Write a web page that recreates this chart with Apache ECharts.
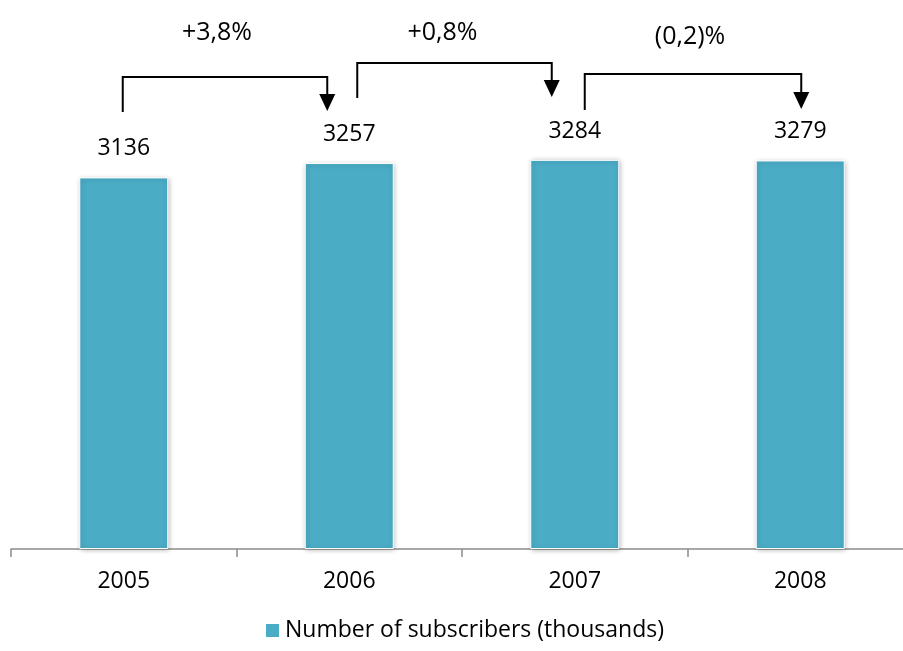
<!DOCTYPE html>
<html>
<head>
<meta charset="utf-8">
<script src="https://cdn.jsdelivr.net/npm/echarts@6/dist/echarts.min.js"></script>
<style>
  html, body { margin: 0; padding: 0; background: #fff; overflow: hidden; }
  #chart { width: 913px; height: 651px; }
</style>
</head>
<body>
<div id="chart"></div>
<script>
// Subscribers per year, in thousands
const years = ['2005', '2006', '2007', '2008'];
const subscribers = [3136, 3257, 3284, 3279];
// Year-on-year change shown over the bracket arrows
const changeLabels = ['+3,8%', '+0,8%', '(0,2)%'];

const FONT = 'Open Sans';
const BAR_COLOR = '#4BACC6';

const chart = echarts.init(document.getElementById('chart'), null, { renderer: 'canvas' });

chart.setOption({
  animation: false,
  grid: { left: 11, right: 0, top: 75, bottom: 102, containLabel: false },
  legend: {
    bottom: 4,
    left: 259,
    itemWidth: 15,
    itemHeight: 15,
    itemGap: 8,
    icon: 'rect',
    textStyle: { fontFamily: FONT, fontSize: 23, color: '#000' },
    data: ['Number of subscribers (thousands)']
  },
  xAxis: {
    type: 'category',
    data: years,
    axisLine: { lineStyle: { color: '#8c8c8c', width: 1.5 } },
    axisTick: { show: true, length: 8, inside: false, alignWithLabel: false, lineStyle: { color: '#8c8c8c', width: 1.5 } },
    axisLabel: { fontFamily: FONT, fontSize: 23, color: '#000', margin: 21 }
  },
  yAxis: {
    type: 'value',
    min: 0,
    max: 4000,
    show: false,
    splitLine: { show: false }
  },
  series: [{
    name: 'Number of subscribers (thousands)',
    type: 'bar',
    data: subscribers,
    barWidth: 89,
    itemStyle: {
      color: BAR_COLOR,
      borderColor: '#ffffff',
      borderWidth: 1,
      shadowColor: 'rgba(0,0,0,0.28)',
      shadowBlur: 5,
      shadowOffsetX: 1,
      shadowOffsetY: 1
    },
    label: {
      show: true,
      position: 'top',
      distance: 17,
      fontFamily: FONT,
      fontSize: 23,
      color: '#000'
    }
  }]
});

// Bracket arrows linking consecutive years; offsets are pixels from each category centre
const brackets = [
  { from: 0, to: 1, dxFrom: -1, dxTo: -22, yLow: 112, yTop: 77, tipY: 111, textY: 33, textDx: -8 },
  { from: 1, to: 2, dxFrom: 8, dxTo: -23, yLow: 98, yTop: 63, tipY: 97, textY: 33, textDx: -12 },
  { from: 2, to: 3, dxFrom: 10, dxTo: 1, yLow: 110, yTop: 74, tipY: 109, textY: 37, textDx: -3 }
];

function drawBrackets() {
  const elements = [];
  brackets.forEach((b, i) => {
    const x1 = chart.convertToPixel({ xAxisIndex: 0 }, years[b.from]) + b.dxFrom;
    const x2 = chart.convertToPixel({ xAxisIndex: 0 }, years[b.to]) + b.dxTo;
    const headH = 17, headW = 16;
    elements.push({
      type: 'polyline',
      shape: { points: [[x1, b.yLow], [x1, b.yTop], [x2, b.yTop], [x2, b.tipY - headH + 1]] },
      style: { stroke: '#000', lineWidth: 2, fill: null }
    });
    elements.push({
      type: 'polygon',
      shape: { points: [[x2 - headW / 2, b.tipY - headH], [x2 + headW / 2, b.tipY - headH], [x2, b.tipY]] },
      style: { fill: '#000' }
    });
    elements.push({
      type: 'text',
      style: {
        text: changeLabels[i],
        x: (x1 + x2) / 2 + b.textDx,
        y: b.textY,
        align: 'center',
        verticalAlign: 'middle',
        fontFamily: FONT,
        fontSize: 25,
        fill: '#000'
      }
    });
  });
  chart.setOption({ graphic: { elements: elements } });
}
drawBrackets();
</script>
</body>
</html>
